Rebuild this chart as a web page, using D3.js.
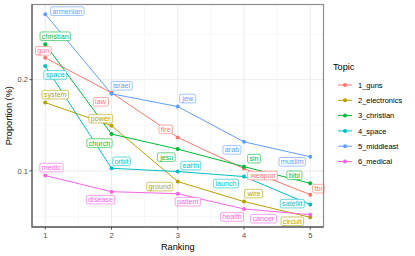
<!DOCTYPE html>
<html><head><meta charset="utf-8">
<script src="https://cdn.jsdelivr.net/npm/d3@7"></script>
<style>html,body{margin:0;padding:0;background:#fff}svg{display:block}</style>
</head><body>
<svg id="chart" width="415" height="256"></svg>
<script>
// ---- data ----
const ranks = [1, 2, 3, 4, 5];
const topics = ["1_guns", "2_electronics", "3_christian", "4_space", "5_middleast", "6_medical"];
const guns        = [0.236, 0.181, 0.129, 0.1018, 0.0835];
const electronics = [0.168, 0.141, 0.0922, 0.0792, 0.0703];
const christian   = [0.2617, 0.1323, 0.118, 0.1033, 0.091];
const space       = [0.222, 0.102, 0.0995, 0.0958, 0.0774];
const middleast   = [0.329, 0.1797, 0.163, 0.1247, 0.1113];
const medical     = [0.0965, 0.0854, 0.0841, 0.0749, 0.0717];
const wordsGuns        = ["gun", "law", "fire", "weapon", "fbi"];
const wordsElectronics = ["system", "power", "ground", "wire", "circuit"];
const wordsChristian   = ["christian", "church", "jesu", "sin", "bibl"];
const wordsSpace       = ["space", "orbit", "earth", "launch", "satellit"];
const wordsMiddleeast  = ["armenian", "israel", "jew", "arab", "muslim"];
const wordsMedical     = ["medic", "disease", "patient", "health", "cancer"];
const yTicks = [0.1, 0.2];
const xTicks = [1, 2, 3, 4, 5];

// ---- layout (label nudges in px, mimicking ggrepel placement) ----
const nudges = [
  [[-2,-7],[-11,9],[-12,-8],[19,7],[8,-6]],
  [[10,-8],[-11,-7],[-18,5],[10,-8],[-18,4]],
  [[10,-8],[-12,9],[-11,8],[10,-8],[-16,-8]],
  [[10,9],[10,-7],[13,-6],[-18,7],[-18,-1]],
  [[22,-3],[10,-8],[10,-8],[-12,8],[-18,5]],
  [[6,-8],[-11,8],[10,8],[-12,8],[-47,4]]
];
const colors = ["#F8766D", "#B79F00", "#00BA38", "#00BFC4", "#619CFF", "#F564E3"];

const seriesVals = [guns, electronics, christian, space, middleast, medical];
const seriesWords = [wordsGuns, wordsElectronics, wordsChristian, wordsSpace, wordsMiddleeast, wordsMedical];
const series = topics.map((t, i) => ({
  topic: t, color: colors[i],
  pts: ranks.map((r, j) => ({rank: r, v: seriesVals[i][j], word: seriesWords[i][j], nd: nudges[i][j]}))
}));

const FONT = "'Liberation Sans', Arial, Helvetica, sans-serif";
const svg = d3.select("#chart").style("font-family", FONT);
const P = {l: 32, r: 323.5, t: 4.5, b: 227};

const x = d3.scaleLinear().domain([0.8, 5.2]).range([P.l, P.r]);
const y = d3.scaleLog().domain([0.0653, 0.354]).range([P.b, P.t]);

// grid
const g = svg.append("g");
const minorX = [1.5, 2.5, 3.5, 4.5];
const minorY = [0.1 / Math.SQRT2, Math.sqrt(0.02), 0.2 * Math.SQRT2];
g.selectAll(".mx").data(minorX).join("line")
  .attr("x1", d => x(d)).attr("x2", d => x(d)).attr("y1", P.t).attr("y2", P.b)
  .attr("stroke", "#f2f2f2").attr("stroke-width", 0.6);
g.selectAll(".my").data(minorY).join("line")
  .attr("y1", d => y(d)).attr("y2", d => y(d)).attr("x1", P.l).attr("x2", P.r)
  .attr("stroke", "#f2f2f2").attr("stroke-width", 0.6);
g.selectAll(".gx").data(xTicks).join("line")
  .attr("x1", d => x(d)).attr("x2", d => x(d)).attr("y1", P.t).attr("y2", P.b)
  .attr("stroke", "#ebebeb").attr("stroke-width", 1);
g.selectAll(".gy").data(yTicks).join("line")
  .attr("y1", d => y(d)).attr("y2", d => y(d)).attr("x1", P.l).attr("x2", P.r)
  .attr("stroke", "#ebebeb").attr("stroke-width", 1);

// lines & points
const line = d3.line().x(d => x(d.rank)).y(d => y(d.v));
const sg = svg.append("g");
series.forEach(s => {
  sg.append("path").datum(s.pts).attr("d", line).attr("fill", "none")
    .attr("stroke", s.color).attr("stroke-width", 1);
});
series.forEach(s => {
  sg.selectAll(null).data(s.pts).join("circle")
    .attr("cx", d => x(d.rank)).attr("cy", d => y(d.v)).attr("r", 2)
    .attr("fill", s.color);
});

// labels
const lg = svg.append("g");
series.forEach(s => {
  s.pts.forEach(d => {
    const cx = x(d.rank) + d.nd[0], cy = y(d.v) + d.nd[1];
    const grp = lg.append("g");
    const t = grp.append("text").attr("x", cx).attr("y", cy + 2.5)
      .attr("text-anchor", "middle").attr("font-size", 7.2).attr("fill", s.color).text(d.word);
    const bb = t.node().getBBox();
    grp.insert("rect", "text").attr("x", bb.x - 1.8).attr("y", cy - 4.3)
      .attr("width", bb.width + 3.6).attr("height", 8.6).attr("rx", 1.5)
      .attr("fill", "#fff").attr("stroke", s.color).attr("stroke-width", 0.6);
  });
});

// panel border / axes
svg.append("rect").attr("x", P.l).attr("y", P.t).attr("width", P.r - P.l).attr("height", P.b - P.t)
  .attr("fill", "none").attr("stroke", "#8c8c8c").attr("stroke-width", 1.2);
svg.append("line").attr("x1", P.l).attr("x2", P.l).attr("y1", P.t).attr("y2", P.b + 0.6)
  .attr("stroke", "#666").attr("stroke-width", 1.3);
svg.append("line").attr("x1", P.l).attr("x2", P.r).attr("y1", P.b).attr("y2", P.b)
  .attr("stroke", "#666").attr("stroke-width", 1.3);

// ticks
const ax = svg.append("g").attr("font-size", 7.5).attr("fill", "#4d4d4d");
xTicks.forEach(t => {
  ax.append("line").attr("x1", x(t)).attr("x2", x(t)).attr("y1", P.b).attr("y2", P.b + 2.7).attr("stroke", "#333").attr("stroke-width", 0.8);
  ax.append("text").attr("x", x(t)).attr("y", P.b + 10.5).attr("text-anchor", "middle").text(d3.format("d")(t));
});
yTicks.forEach(t => {
  ax.append("line").attr("x1", P.l - 2.7).attr("x2", P.l).attr("y1", y(t)).attr("y2", y(t)).attr("stroke", "#333").attr("stroke-width", 0.8);
  ax.append("text").attr("x", P.l - 4).attr("y", y(t) + 2.7).attr("text-anchor", "end").text(t.toFixed(1));
});

// axis titles
svg.append("text").attr("x", (P.l + P.r) / 2).attr("y", 250).attr("text-anchor", "middle")
  .attr("font-size", 9.2).attr("fill", "#000").text("Ranking");
svg.append("text").attr("transform", `translate(12,${(P.t + P.b) / 2}) rotate(-90)`)
  .attr("text-anchor", "middle").attr("font-size", 9.2).attr("fill", "#000").text("Proportion (%)");

// legend
const leg = svg.append("g");
leg.append("text").attr("x", 333).attr("y", 70).attr("font-size", 9.2).text("Topic");
series.forEach((s, i) => {
  const yy = 85 + i * 15.3;
  leg.append("line").attr("x1", 338).attr("x2", 352).attr("y1", yy).attr("y2", yy)
    .attr("stroke", s.color).attr("stroke-width", 1);
  leg.append("circle").attr("cx", 345).attr("cy", yy).attr("r", 2).attr("fill", s.color);
  leg.append("text").attr("x", 358).attr("y", yy + 2.6).attr("font-size", 7.5).attr("fill", "#000").text(s.topic);
});
</script>
</body></html>
